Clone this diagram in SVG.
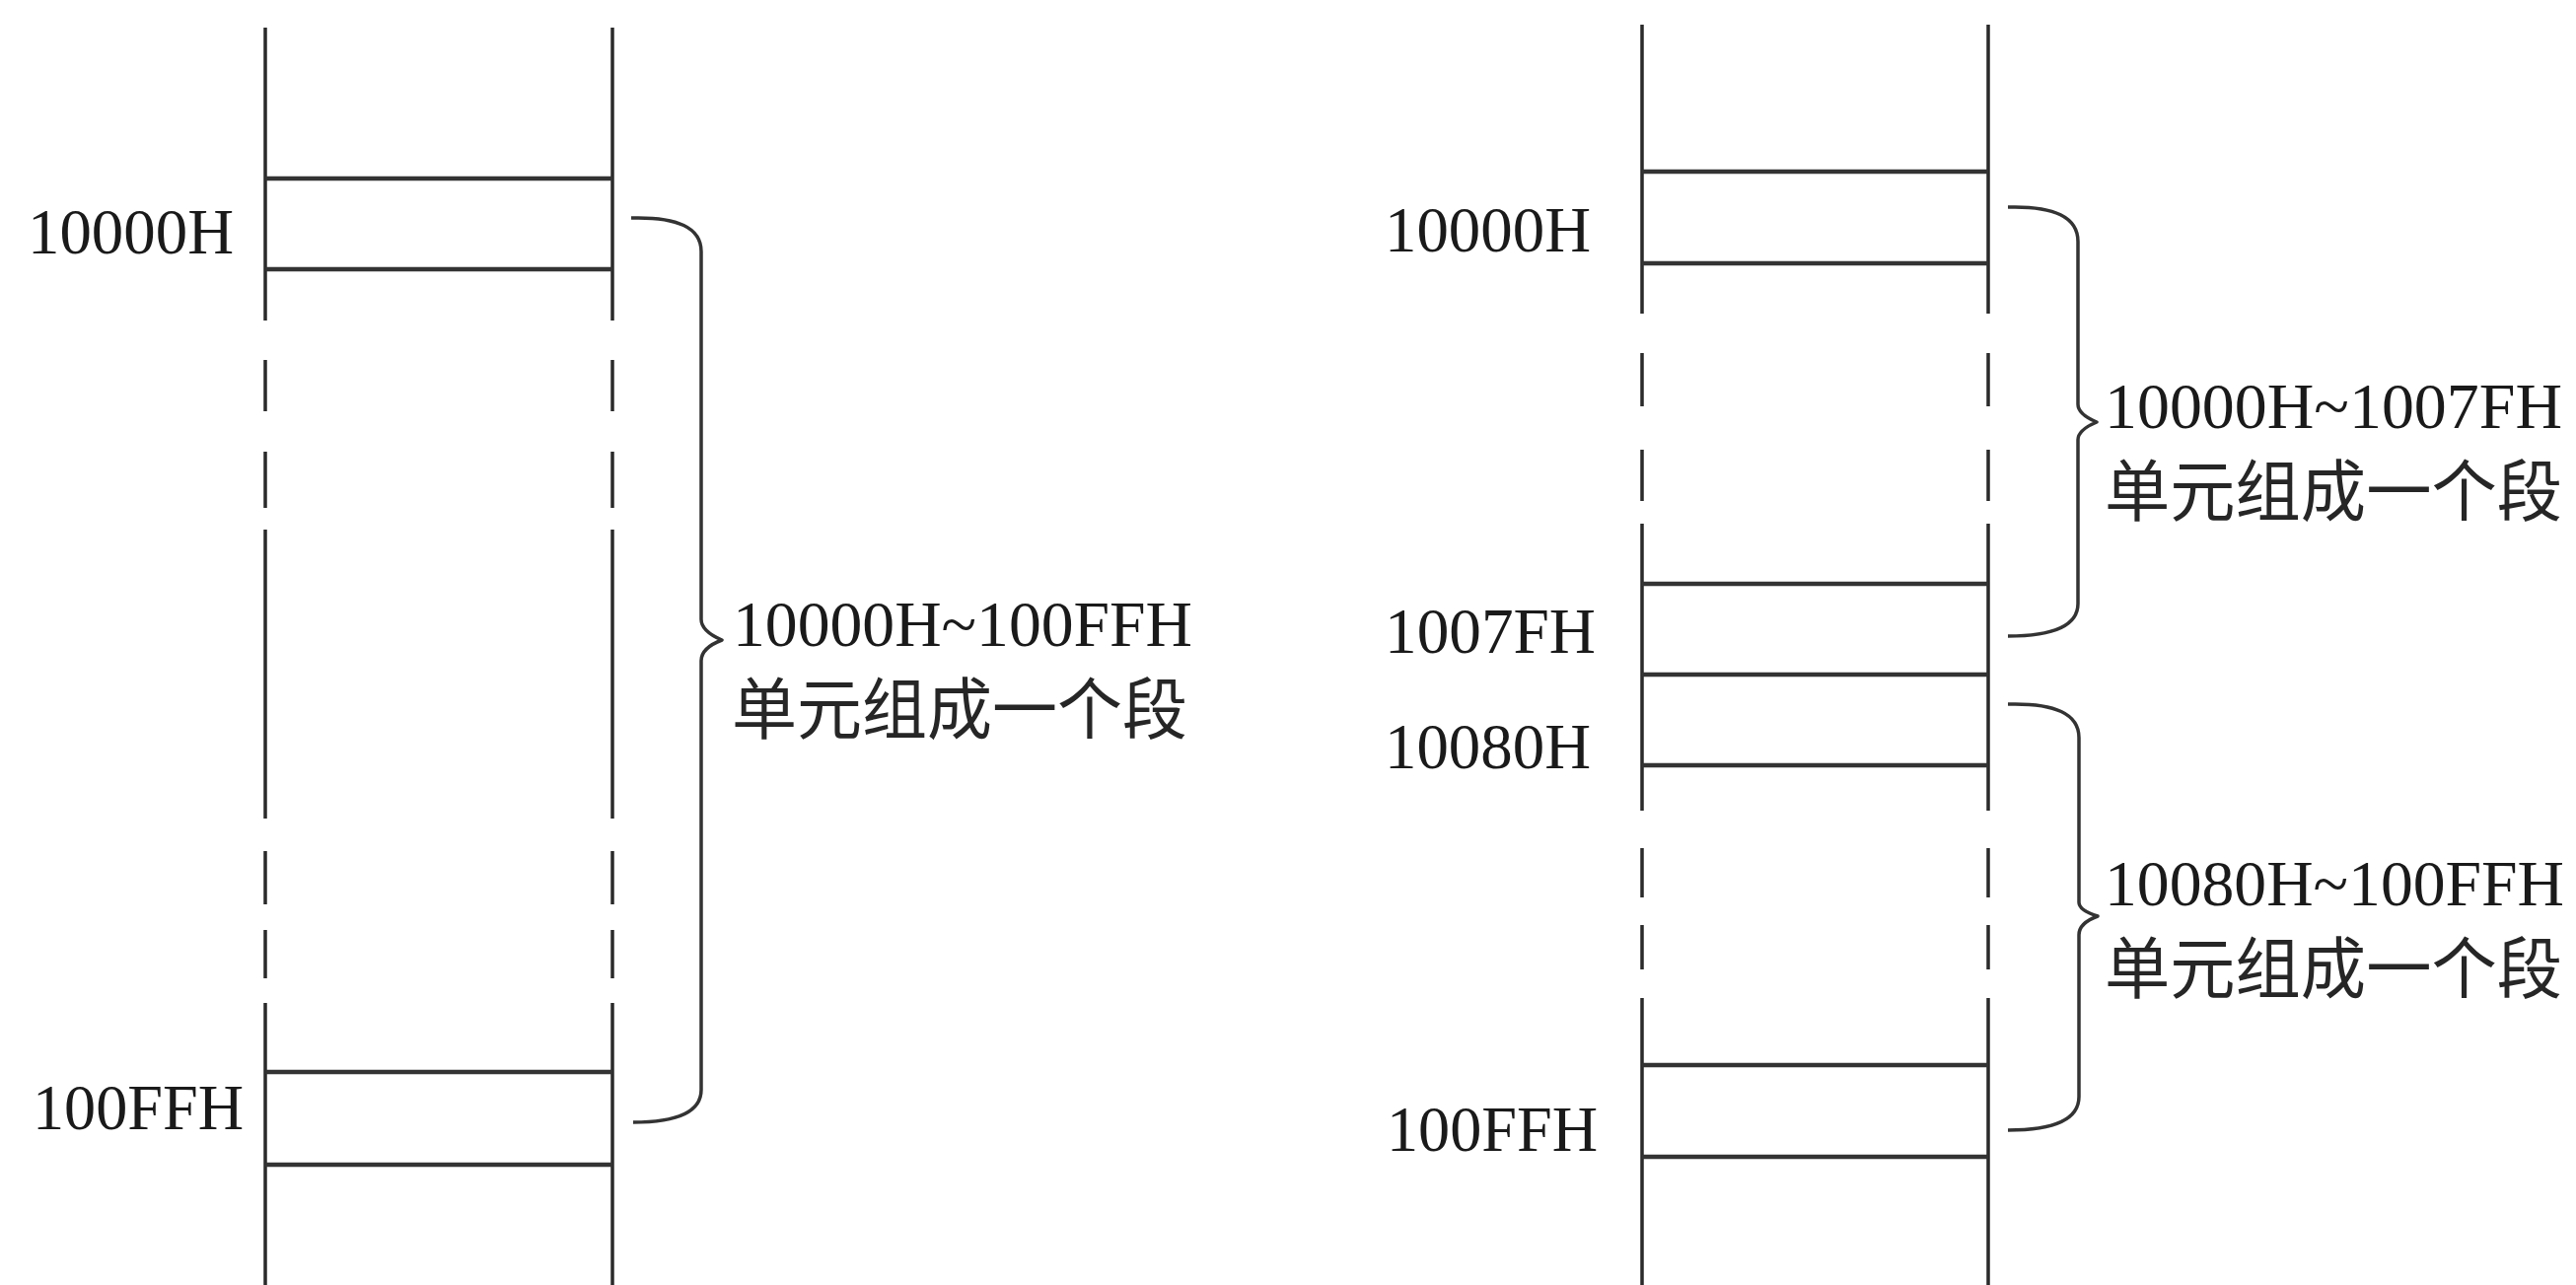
<svg xmlns="http://www.w3.org/2000/svg" width="2612" height="1303" viewBox="0 0 2612 1303">
<style>
.v{stroke:#2a2a2a;stroke-width:3.5;fill:none}
.h{stroke:#333333;stroke-width:4.5;fill:none}
.br{stroke:#333333;stroke-width:3.5;fill:none;stroke-linejoin:round}
.lab{font-family:"Liberation Serif","Times New Roman",serif;font-size:66px;fill:#1a1a1a}
.cjk{font-family:"Noto Sans CJK SC","Noto Sans CJK JP",sans-serif;font-size:68px;fill:#262626}
</style>
<rect width="2612" height="1303" fill="#ffffff"/>
<g id="memory-left">
<path class="v" d="M269,28V325M269,365V417M269,458V515M269,537V830M269,863V917M269,943V992M269,1017V1303"/>
<path class="v" d="M621,28V325M621,365V417M621,458V515M621,537V830M621,863V917M621,943V992M621,1017V1303"/>
<path class="h" d="M269,181H621M269,273H621M269,1087H621M269,1181H621"/>
<text class="lab" x="28" y="257" textLength="209" lengthAdjust="spacingAndGlyphs">10000H</text>
<text class="lab" x="33" y="1145" textLength="214" lengthAdjust="spacingAndGlyphs">100FFH</text>
</g>
<g id="memory-right">
<path class="v" d="M1665,25V318M1665,358V412M1665,456V508M1665,531V822M1665,860V910M1665,938V983M1665,1012V1303"/>
<path class="v" d="M2016,25V318M2016,358V412M2016,456V508M2016,531V822M2016,860V910M2016,938V983M2016,1012V1303"/>
<path class="h" d="M1665,174H2016M1665,267H2016M1665,592H2016M1665,684H2016M1665,776H2016M1665,1080H2016M1665,1173H2016"/>
<text class="lab" x="1404" y="255" textLength="209" lengthAdjust="spacingAndGlyphs">10000H</text>
<text class="lab" x="1404" y="662" textLength="214" lengthAdjust="spacingAndGlyphs">1007FH</text>
<text class="lab" x="1404" y="779" textLength="209" lengthAdjust="spacingAndGlyphs">10080H</text>
<text class="lab" x="1406" y="1167" textLength="214" lengthAdjust="spacingAndGlyphs">100FFH</text>
</g>
<g id="connectors">
<path class="br" d="M640,221Q711,219 711,255L711,628Q711,640 732,649Q711,657 711,670L711,1105Q711,1138 642,1138"/>
<path class="br" d="M2036,210Q2107,208 2107,245L2107,410Q2107,420 2126,428Q2107,436 2107,446L2107,612Q2107,645 2036,645"/>
<path class="br" d="M2036,714Q2108,712 2108,748L2108,915Q2108,923 2127,929Q2108,936 2108,948L2108,1112Q2108,1146 2036,1146"/>
</g>
<g id="segment-1">
<text class="lab" x="743" y="655" textLength="466" lengthAdjust="spacingAndGlyphs">10000H~100FFH</text>
<text class="cjk" x="742" y="744" textLength="462" lengthAdjust="spacingAndGlyphs">单元组成一个段</text>
</g>
<g id="segment-2">
<text class="lab" x="2134" y="434" textLength="464" lengthAdjust="spacingAndGlyphs">10000H~1007FH</text>
<text class="cjk" x="2134" y="523" textLength="464" lengthAdjust="spacingAndGlyphs">单元组成一个段</text>
</g>
<g id="segment-3">
<text class="lab" x="2134" y="918" textLength="466" lengthAdjust="spacingAndGlyphs">10080H~100FFH</text>
<text class="cjk" x="2134" y="1007" textLength="464" lengthAdjust="spacingAndGlyphs">单元组成一个段</text>
</g>
</svg>
